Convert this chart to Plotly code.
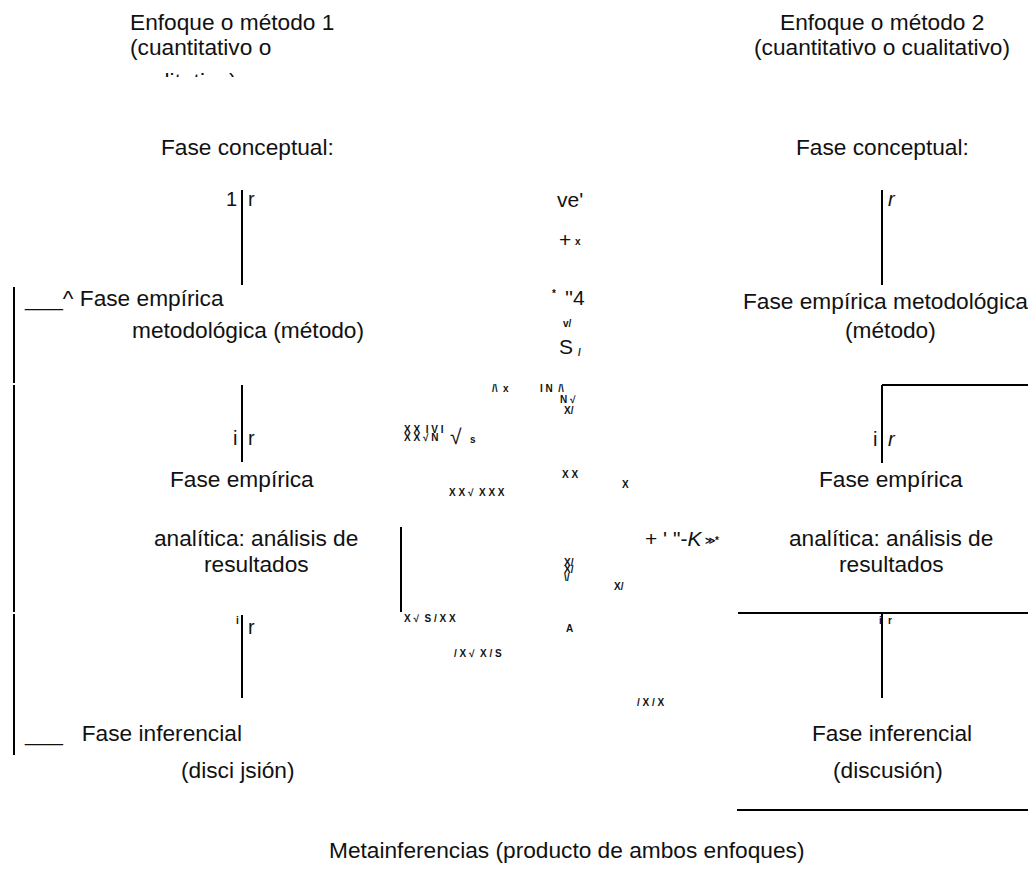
import plotly.graph_objects as go

# The page body has an 8px margin, so the figure is drawn 8px in from the
# window edge; the axis ranges below keep one unit equal to one window pixel.
PAGE_W, PAGE_H, BODY = 1036, 870, 8
FONT = "Liberation Sans, Arial, sans-serif"
FS = 22.7

# ---- main labels (regular, large) ----
main_text = [
    "Enfoque o método 1", "(cuantitativo o",
    "Enfoque o método 2", "(cuantitativo o cualitativo)",
    "Fase conceptual:", "Fase conceptual:",
    "___^ Fase empírica", "metodológica (método)",
    "Fase empírica metodológica", "(método)",
    "Fase empírica", "Fase empírica",
    "analítica: análisis de", "resultados",
    "analítica: análisis de", "resultados",
    "___\u00a0\u00a0\u00a0Fase inferencial", "(disci jsión)",
    "Fase inferencial", "(discusión)",
    "Metainferencias (producto de ambos enfoques)",
]
main_x = [128, 128, 882, 882, 247, 882, 22, 130, 885, 890, 242, 891,
          256, 256, 891, 891, 22, 237, 892, 888, 566]
main_y = [22, 47, 22, 47, 147, 147, 298, 330, 301, 330, 479, 479,
          538, 564, 538, 564, 733, 770, 733, 770, 850]
main_anchor = ["left", "left", "center", "center", "center", "center",
               "left", "left", "center", "center", "center", "center",
               "center", "center", "center", "center", "left", "center",
               "center", "center", "center"]

# clipped third line of the first heading
clipped_text = ["cualitativo)"]
clipped_x = [128]
clipped_y = [83]

# ---- marks beside the connector lines ----
mark_text = ["1", "r", "<i>r</i>", "i", "r", "i", "<i>r</i>", "r"]
mark_x = [239, 246, 886, 239, 246, 879, 886, 246]
mark_y = [199, 199, 199, 438, 438, 439, 439, 627]
mark_anchor = ["right", "left", "left", "right", "left", "right", "left", "left"]

# ---- scanned noise glyphs in the middle (large) ----
noise_big_text = ["ve'", "+", "''4", "S", "+ ' \"-<i>K</i>", "√"]
noise_big_x = [555, 557, 563, 557, 643, 448]
noise_big_y = [199, 239, 297, 346, 538, 436]

# ---- scanned noise glyphs (small bold) ----
noise_small_text = [
    "x", "*", "v/", "/", "/\\  x", "I N  /\\", "N √", "X/",
    "X X  I V I", "X X √ N", "s", "X X", "X", "X X √  X X X",
    "≫*", "X/", "X/", "\\/", "X/", "X √  S / X X", "A",
    "/ X √  X / S", "/ X / X", "i", "i", "r",
]
noise_small_x = [573, 550, 561, 576, 490, 538, 558, 562,
                 402, 402, 468, 560, 620, 447,
                 703, 562, 562, 562, 612, 402, 564,
                 452, 635, 234, 877, 886]
noise_small_y = [241, 293, 323, 352, 388, 388, 399, 410,
                 429, 437, 439, 474, 484, 492,
                 540, 562, 569, 577, 586, 618, 628,
                 653, 702, 620, 620, 620]

# ---- connector lines (x0, y0, x1, y1) ----
seg_x0 = [14, 14, 14, 242, 242, 242, 401, 882, 882, 882, 1034, 738, 882, 737]
seg_y0 = [287, 385, 614, 190, 385, 615, 527, 190, 385, 385, 385, 613, 613, 810]
seg_x1 = [14, 14, 14, 242, 242, 242, 401, 882, 1036, 882, 1034, 1036, 882, 1036]
seg_y1 = [383, 612, 755, 285, 462, 698, 612, 285, 385, 463, 613, 613, 698, 810]

fig = go.Figure()

lx, ly = [], []
for a, b, c, d in zip(seg_x0, seg_y0, seg_x1, seg_y1):
    lx += [a, c, None]
    ly += [b, d, None]
fig.add_trace(go.Scatter(x=lx, y=ly, mode="lines",
                         line=dict(color="black", width=2),
                         hoverinfo="skip", showlegend=False, cliponaxis=False))

fig.add_trace(go.Scatter(x=clipped_x, y=clipped_y, mode="text",
                         text=clipped_text, textposition="middle right",
                         textfont=dict(family=FONT, size=FS, color="#111"),
                         hoverinfo="skip", showlegend=False))

annotations = []
for t, x, y, a in zip(main_text, main_x, main_y, main_anchor):
    annotations.append(dict(x=x, y=y, text=t, xanchor=a, yanchor="middle",
                            showarrow=False,
                            font=dict(family=FONT, size=FS, color="#111")))
for t, x, y, a in zip(mark_text, mark_x, mark_y, mark_anchor):
    annotations.append(dict(x=x, y=y, text=t, xanchor=a, yanchor="middle",
                            showarrow=False,
                            font=dict(family=FONT, size=20, color="#111")))
for t, x, y in zip(noise_big_text, noise_big_x, noise_big_y):
    annotations.append(dict(x=x, y=y, text=t, xanchor="left", yanchor="middle",
                            showarrow=False,
                            font=dict(family=FONT, size=21, color="#111")))
for t, x, y in zip(noise_small_text, noise_small_x, noise_small_y):
    annotations.append(dict(x=x, y=y, text="<b>" + t + "</b>", xanchor="left",
                            yanchor="middle", showarrow=False,
                            font=dict(family=FONT, size=10, color="#111")))

fig.update_layout(
    width=PAGE_W - BODY, height=PAGE_H - BODY,
    margin=dict(l=0, r=0, t=0, b=0),
    paper_bgcolor="white", plot_bgcolor="white",
    xaxis=dict(range=[BODY, PAGE_W], visible=False, fixedrange=True),
    yaxis=dict(range=[PAGE_H, BODY], visible=False, fixedrange=True),
    annotations=annotations,
    shapes=[dict(type="rect", xref="x", yref="y", x0=110, x1=360, y0=77, y1=105,
                 fillcolor="white", line=dict(width=0), layer="above")],
    showlegend=False,
)

fig.write_html("out.html")
